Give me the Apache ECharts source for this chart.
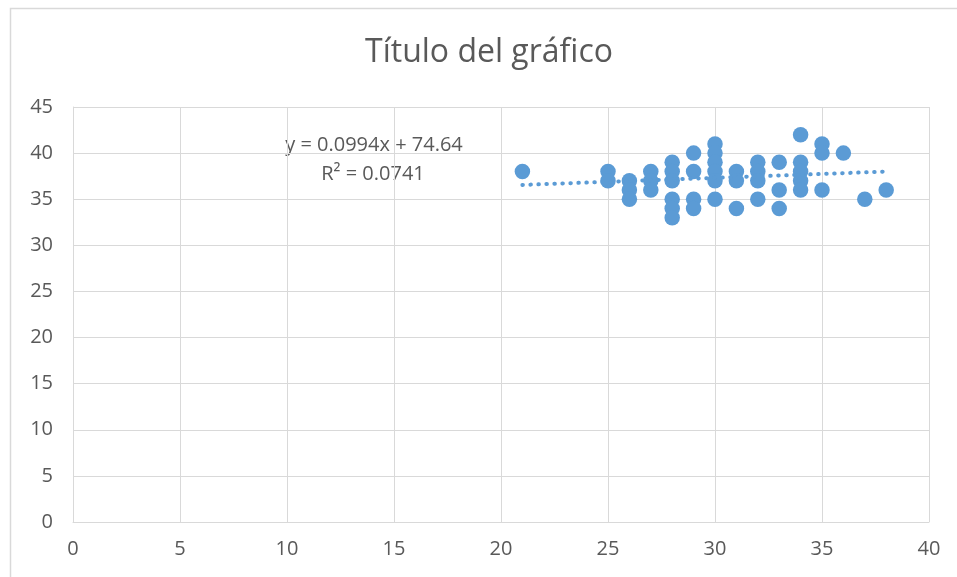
<!DOCTYPE html>
<html>
<head>
<meta charset="utf-8">
<script src="https://cdn.jsdelivr.net/npm/echarts@6/dist/echarts.min.js"></script>
<style>
html,body{margin:0;padding:0;background:#fff;}
#chart{width:957px;height:577px;}
</style>
</head>
<body>
<div id="chart"></div>
<script>
const titleText = 'Título del gráfico';
const xValues = [21, 25, 25, 26, 26, 26, 27, 27, 27, 28, 28, 28, 28, 28, 28, 29, 29, 29, 29, 30, 30, 30, 30, 30, 30, 31, 31, 31, 32, 32, 32, 32, 33, 33, 33, 34, 34, 34, 34, 34, 35, 35, 35, 36, 37, 38];
const yValues = [38, 38, 37, 37, 36, 35, 38, 37, 36, 39, 38, 37, 35, 34, 33, 40, 38, 35, 34, 41, 40, 39, 38, 37, 35, 38, 37, 34, 39, 38, 37, 35, 39, 36, 34, 42, 39, 38, 37, 36, 41, 40, 36, 40, 35, 36];
const trendX = [21, 38];
const trendY = [36.55, 38.0];
const equationText = 'y = 0.0994x + 74.64';
const r2Text = 'R² = 0.0741';
const xTicks = [0, 5, 10, 15, 20, 25, 30, 35, 40];
const yTicks = [0, 5, 10, 15, 20, 25, 30, 35, 40, 45];

const points = xValues.map((x, i) => [x, yValues[i]]);
const trend = trendX.map((x, i) => [x, trendY[i]]);
const FONT = 'Open Sans';
const TXT = '#595959';
const GRID = '#D9D9D9';

const chart = echarts.init(document.getElementById('chart'), null, {renderer: 'canvas'});
chart.setOption({
  animation: false,
  backgroundColor: '#fff',
  grid: {left: 73, right: 28, top: 107, bottom: 55, containLabel: false},
  xAxis: {
    type: 'value', min: xTicks[0], max: xTicks[xTicks.length - 1], interval: 5,
    axisLine: {show: true, lineStyle: {color: GRID, width: 1}},
    axisTick: {show: false},
    splitLine: {show: true, lineStyle: {color: GRID, width: 1}},
    axisLabel: {fontFamily: FONT, fontSize: 20, color: TXT, margin: 17}
  },
  yAxis: {
    type: 'value', min: yTicks[0], max: yTicks[yTicks.length - 1], interval: 5,
    axisLine: {show: true, lineStyle: {color: GRID, width: 1}},
    axisTick: {show: false},
    splitLine: {show: true, lineStyle: {color: GRID, width: 1}},
    axisLabel: {fontFamily: FONT, fontSize: 20, color: TXT, margin: 20}
  },
  series: [
    {
      type: 'line', data: trend, symbol: 'none', z: 3,
      lineStyle: {color: '#5B9BD5', width: 4, type: [0.5, 7.5], cap: 'round'}
    },
    {
      type: 'scatter', data: points, symbol: 'circle', symbolSize: 15.5, z: 2,
      itemStyle: {color: '#5B9BD5', opacity: 1}
    }
  ],
  graphic: [
    {type: 'rect', shape: {x: 10.5, y: 8.5, width: 1200, height: 1200},
     style: {fill: 'none', stroke: GRID, lineWidth: 1.5}, silent: true, z: -1},
    {type: 'text', x: 489, y: 53,
     style: {text: titleText, font: '32px "Open Sans"', fill: TXT, align: 'center', verticalAlign: 'middle'}},
    {type: 'text', x: 374, y: 145,
     style: {text: equationText, font: '20px "Open Sans"', fill: TXT, align: 'center', verticalAlign: 'middle'}},
    {type: 'text', x: 373, y: 174,
     style: {text: r2Text, font: '20px "Open Sans"', fill: TXT, align: 'center', verticalAlign: 'middle'}}
  ]
});
</script>
</body>
</html>
